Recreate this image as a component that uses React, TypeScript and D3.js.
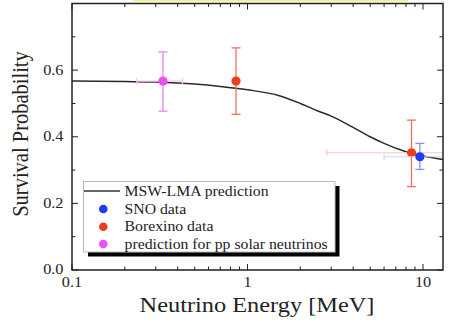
import * as d3 from "d3";

// MSW-LMA prediction curve
const curveEnergy = [0.1, 0.2, 0.3, 0.5, 0.7, 1.0, 1.5, 2.0, 2.5, 3.0, 4.0, 5.0, 6.0, 8.0, 10, 13];
const curveProb = [0.567, 0.566, 0.564, 0.558, 0.551, 0.541, 0.524, 0.5, 0.478, 0.462, 0.428, 0.4, 0.38, 0.355, 0.342, 0.332];

// data points: energy, probability, y error low/high, x error low/high
const pointNames = ["pp", "Borexino", "Borexino", "SNO"];
const pointEnergy = [0.33, 0.86, 8.6, 9.6];
const pointProb = [0.567, 0.567, 0.352, 0.34];
const pointYLo = [0.477, 0.467, 0.25, 0.302];
const pointYHi = [0.655, 0.667, 0.45, 0.38];
const pointXLo = [0.234, null, 2.83, 6.0];
const pointXHi = [0.426, null, 16, 16];

const yTicks = [0, 0.2, 0.4, 0.6];
const yMinor = [0.1, 0.3, 0.5, 0.7];
const xTicks = [0.1, 1, 10];
const xTickLabels = ["0.1", "1", "10"];

const legendLabels = ["MSW-LMA prediction", "SNO data", "Borexino data", "prediction for pp solar neutrinos"];

const colors: Record<string, { dot: string; bar: string; hbar: string }> = {
  pp: { dot: "#ec4ff2", bar: "#f07ef6", hbar: "#f7c0f9" },
  Borexino: { dot: "#e8401c", bar: "#f07060", hbar: "#f9c8c4" },
  SNO: { dot: "#1b3cf5", bar: "#7f8ff8", hbar: "#d0d8fc" },
};

const W = 458;
const H = 326;
const left = 72, right = 443, top = 3.5, bottom = 270;
const font = '"Liberation Serif", "Times New Roman", Times, serif';
const ink = "#222";
// the source picture is stretched sideways a little
const sx = 1.16;

export default function App() {
  const x = d3.scaleLog().domain([0.1, 13]).range([left, right]);
  const y = d3.scaleLinear().domain([0, 0.8]).range([bottom, top]);

  const line = d3
    .line<number>()
    .x((d) => x(d))
    .y((_, i) => y(curveProb[i]))
    .curve(d3.curveMonotoneX);

  // log minor ticks
  const xMinor: number[] = [];
  [0.1, 1, 10].forEach((dec) => {
    for (let k = 2; k <= 9; k++) {
      const v = dec * k;
      if (v < 13) xMinor.push(v);
    }
  });

  const legendRows = [191, 209, 226.7, 244];
  const legendDots = ["SNO", "Borexino", "pp"];

  return (
    <svg width={W} height={H} style={{ position: "absolute", left: 0, top: 0, fontFamily: font }}>
      <rect width={W} height={H} fill="#fff" />
      <rect x={133} y={0} width={275} height={1.5} fill="#f6f08a" />
      <defs>
        <clipPath id="plot">
          <rect x={left} y={top} width={right - left} height={bottom - top} />
        </clipPath>
      </defs>

      {/* ticks, inward on all four sides */}
      <g stroke={ink} strokeWidth={1}>
        {yTicks.concat([0.8]).map((t) => (
          <g key={"y" + t}>
            <line x1={left} x2={left + 6} y1={y(t)} y2={y(t)} />
            <line x1={right} x2={right - 6} y1={y(t)} y2={y(t)} />
          </g>
        ))}
        {yMinor.map((t) => (
          <g key={"ym" + t}>
            <line x1={left} x2={left + 3.5} y1={y(t)} y2={y(t)} />
            <line x1={right} x2={right - 3.5} y1={y(t)} y2={y(t)} />
          </g>
        ))}
        {xTicks.map((t) => (
          <g key={"x" + t}>
            <line x1={x(t)} x2={x(t)} y1={bottom} y2={bottom - 6} />
            <line x1={x(t)} x2={x(t)} y1={top} y2={top + 6} />
          </g>
        ))}
        {xMinor.map((t) => (
          <g key={"xm" + t}>
            <line x1={x(t)} x2={x(t)} y1={bottom} y2={bottom - 3.5} />
            <line x1={x(t)} x2={x(t)} y1={top} y2={top + 3.5} />
          </g>
        ))}
      </g>

      {/* curve and data */}
      <g clipPath="url(#plot)">
        <path d={line(curveEnergy) || ""} fill="none" stroke="#2a2a2a" strokeWidth={1.5} />
        {pointEnergy.map((e, i) => {
          const c = colors[pointNames[i]];
          const cx = x(e);
          const cy = y(pointProb[i]);
          const xlo = pointXLo[i];
          const xhi = pointXHi[i];
          return (
            <g key={"p" + i}>
              {xlo !== null && xhi !== null && (
                <g stroke={c.hbar} strokeWidth={1.2}>
                  <line x1={x(xlo)} x2={x(xhi)} y1={cy} y2={cy} />
                  <line x1={x(xlo)} x2={x(xlo)} y1={cy - 3} y2={cy + 3} />
                  <line x1={x(xhi)} x2={x(xhi)} y1={cy - 3} y2={cy + 3} />
                </g>
              )}
              <g stroke={c.bar} strokeWidth={1.3}>
                <line x1={cx} x2={cx} y1={y(pointYLo[i])} y2={y(pointYHi[i])} />
                <line x1={cx - 4.5} x2={cx + 4.5} y1={y(pointYLo[i])} y2={y(pointYLo[i])} />
                <line x1={cx - 4.5} x2={cx + 4.5} y1={y(pointYHi[i])} y2={y(pointYHi[i])} />
              </g>
              <circle cx={cx} cy={cy} r={4.6} fill={c.dot} />
            </g>
          );
        })}
      </g>

      {/* frame */}
      <rect x={left} y={top} width={right - left} height={bottom - top} fill="none" stroke={ink} strokeWidth={1.5} />

      {/* tick labels */}
      <g fill={ink} fontSize={13.8}>
        {yTicks.map((t) => (
          <text key={"yl" + t} transform={`translate(63.5,${y(t) + 4.4}) scale(1.18,1)`} textAnchor="end">
            {t.toFixed(1)}
          </text>
        ))}
        {xTicks.map((t, i) => (
          <text key={"xl" + t} transform={`translate(${x(t)},287.4) scale(1.18,1)`} textAnchor="middle">
            {xTickLabels[i]}
          </text>
        ))}
      </g>

      <text transform={`translate(257,311.7) scale(${sx},1)`} textAnchor="middle" fontSize={21} fill={ink}>
        Neutrino Energy [MeV]
      </text>
      <text transform={`translate(27.5,134) rotate(-90) scale(1,${sx})`} textAnchor="middle" fontSize={20.5} fill={ink}>
        Survival Probability
      </text>

      {/* legend */}
      <rect x={88} y={186} width={251.5} height={70.5} fill="#000" />
      <rect x={83.5} y={181.5} width={251.5} height={70.5} fill="#fff" stroke="#bbb" strokeWidth={1} />
      <line x1={84} x2={120} y1={legendRows[0]} y2={legendRows[0]} stroke="#333" strokeWidth={1.4} />
      {legendDots.map((n, i) => (
        <circle key={n} cx={103.3} cy={legendRows[i + 1]} r={4.3} fill={colors[n].dot} />
      ))}
      <g fill={ink} fontSize={13.6}>
        {legendLabels.map((l, i) => (
          <text key={l} transform={`translate(124.5,${legendRows[i] + 4.7}) scale(${sx},1)`}>
            {l}
          </text>
        ))}
      </g>
    </svg>
  );
}
